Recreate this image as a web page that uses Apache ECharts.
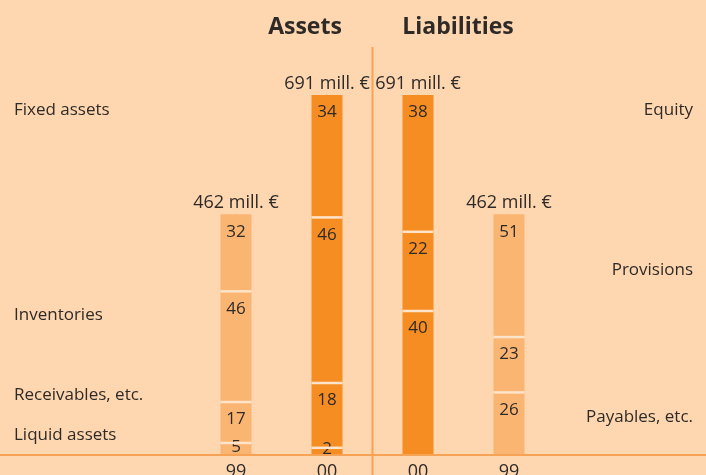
<!DOCTYPE html>
<html>
<head>
<meta charset="utf-8">
<script src="https://cdn.jsdelivr.net/npm/echarts@6/dist/echarts.min.js"></script>
<style>
  html, body { margin: 0; padding: 0; background: #fed7b1; }
  #chart { width: 706px; height: 475px; }
</style>
</head>
<body>
<div id="chart"></div>
<script>
// years under each bar, and balance sheet totals in mill. EUR
var categories = ['99', '00', '00', '99'];
var totals = [462, 691, 691, 462];

// asset side, bottom to top, percent shares
var assetNames = ['Liquid assets', 'Receivables, etc.', 'Inventories', 'Fixed assets'];
var assets99 = [5, 17, 46, 32];
var assets00 = [2, 18, 46, 34];

// liabilities side, bottom to top, percent shares
var liabNames = ['Payables, etc.', 'Provisions', 'Equity'];
var liab00 = [40, 22, 38];
var liab99 = [26, 23, 51];

var BG = '#fed7b1';
var LIGHT = '#fbb572';
var DARK = '#f68d22';
var TEXT = '#2e2a27';
var FONT = '"Open Sans", "Noto Sans", sans-serif';
var BAR_W = 31;

function item(total, pct, color) {
  var d = { value: total * pct / 100, pct: pct, itemStyle: { color: color } };
  // tiny segments get their number centred
  if (pct < 8) d.label = { position: 'inside', offset: [0, -2] };
  return d;
}

var series = [];
assetNames.forEach(function(name, i) {
  series.push({
    name: name, type: 'bar', stack: 'bs', barWidth: BAR_W,
    data: [item(totals[0], assets99[i], LIGHT), item(totals[1], assets00[i], DARK), '-', '-']
  });
});
liabNames.forEach(function(name, i) {
  series.push({
    name: name, type: 'bar', stack: 'bs', barWidth: BAR_W,
    data: ['-', '-', item(totals[2], liab00[i], DARK), item(totals[3], liab99[i], LIGHT)]
  });
});
series.forEach(function(s) {
  s.label = {
    show: true, position: 'insideTop', distance: 9,
    color: TEXT, fontSize: 17, fontFamily: FONT,
    formatter: function(p) { return p.data.pct; }
  };
});

// thin light separators between the stacked segments
var stacksPct = [assets99, assets00, liab00, liab99];
var seps = [];
stacksPct.forEach(function(arr, c) {
  var cum = 0;
  for (var k = 0; k < arr.length - 1; k++) {
    cum += arr[k];
    seps.push([c, totals[c] * cum / 100]);
  }
});
series.push({
  type: 'custom', z: 3, silent: true,
  data: seps,
  renderItem: function(params, api) {
    var p = api.coord([api.value(0), api.value(1)]);
    return {
      type: 'line',
      shape: { x1: p[0] - BAR_W / 2, y1: p[1], x2: p[0] + BAR_W / 2, y2: p[1] },
      style: { stroke: '#fee4ca', lineWidth: 2.5 }
    };
  }
});

series.push({
  name: 'total', type: 'scatter', symbolSize: 1,
  itemStyle: { color: DARK, opacity: 1 },
  data: totals,
  label: {
    show: true, position: 'top', distance: 2,
    color: TEXT, opacity: 1, fontSize: 18, fontFamily: FONT,
    formatter: '{c} mill. €'
  },
  z: 1
});

var side = function(x, y, text, align) {
  return { type: 'text', x: x, y: y, style: { text: text, fill: TEXT, font: '17px ' + FONT, textAlign: align, textVerticalAlign: 'middle' } };
};

var chart = echarts.init(document.getElementById('chart'));
chart.setOption({
  backgroundColor: BG,
  animation: false,
  grid: { left: 190.5, width: 364, top: 95, bottom: 20, outerBoundsMode: 'none', containLabel: false },
  xAxis: {
    type: 'category', data: categories,
    axisLine: { show: false }, axisTick: { show: false },
    axisLabel: { color: TEXT, fontSize: 18, fontFamily: FONT, margin: 8 }
  },
  yAxis: { type: 'value', min: 0, max: 691, show: false, splitLine: { show: false } },
  series: series,
  graphic: [
    { type: 'line', shape: { x1: 0, y1: 455, x2: 706, y2: 455 }, style: { stroke: '#f7a355', lineWidth: 2 }, z: 10 },
    { type: 'line', shape: { x1: 372.5, y1: 47, x2: 372.5, y2: 475 }, style: { stroke: '#f7a355', lineWidth: 2 }, z: 10 },
    { type: 'text', x: 305, y: 27, style: { text: 'Assets', fill: TEXT, font: 'bold 23px ' + FONT, textAlign: 'center', textVerticalAlign: 'middle' } },
    { type: 'text', x: 458, y: 27, style: { text: 'Liabilities', fill: TEXT, font: 'bold 23px ' + FONT, textAlign: 'center', textVerticalAlign: 'middle' } },
    side(14, 110, assetNames[3], 'left'),
    side(14, 315, assetNames[2], 'left'),
    side(14, 395, assetNames[1], 'left'),
    side(14, 435, assetNames[0], 'left'),
    side(693, 110, liabNames[2], 'right'),
    side(693, 270, liabNames[1], 'right'),
    side(693, 417, liabNames[0], 'right')
  ]
});
</script>
</body>
</html>
